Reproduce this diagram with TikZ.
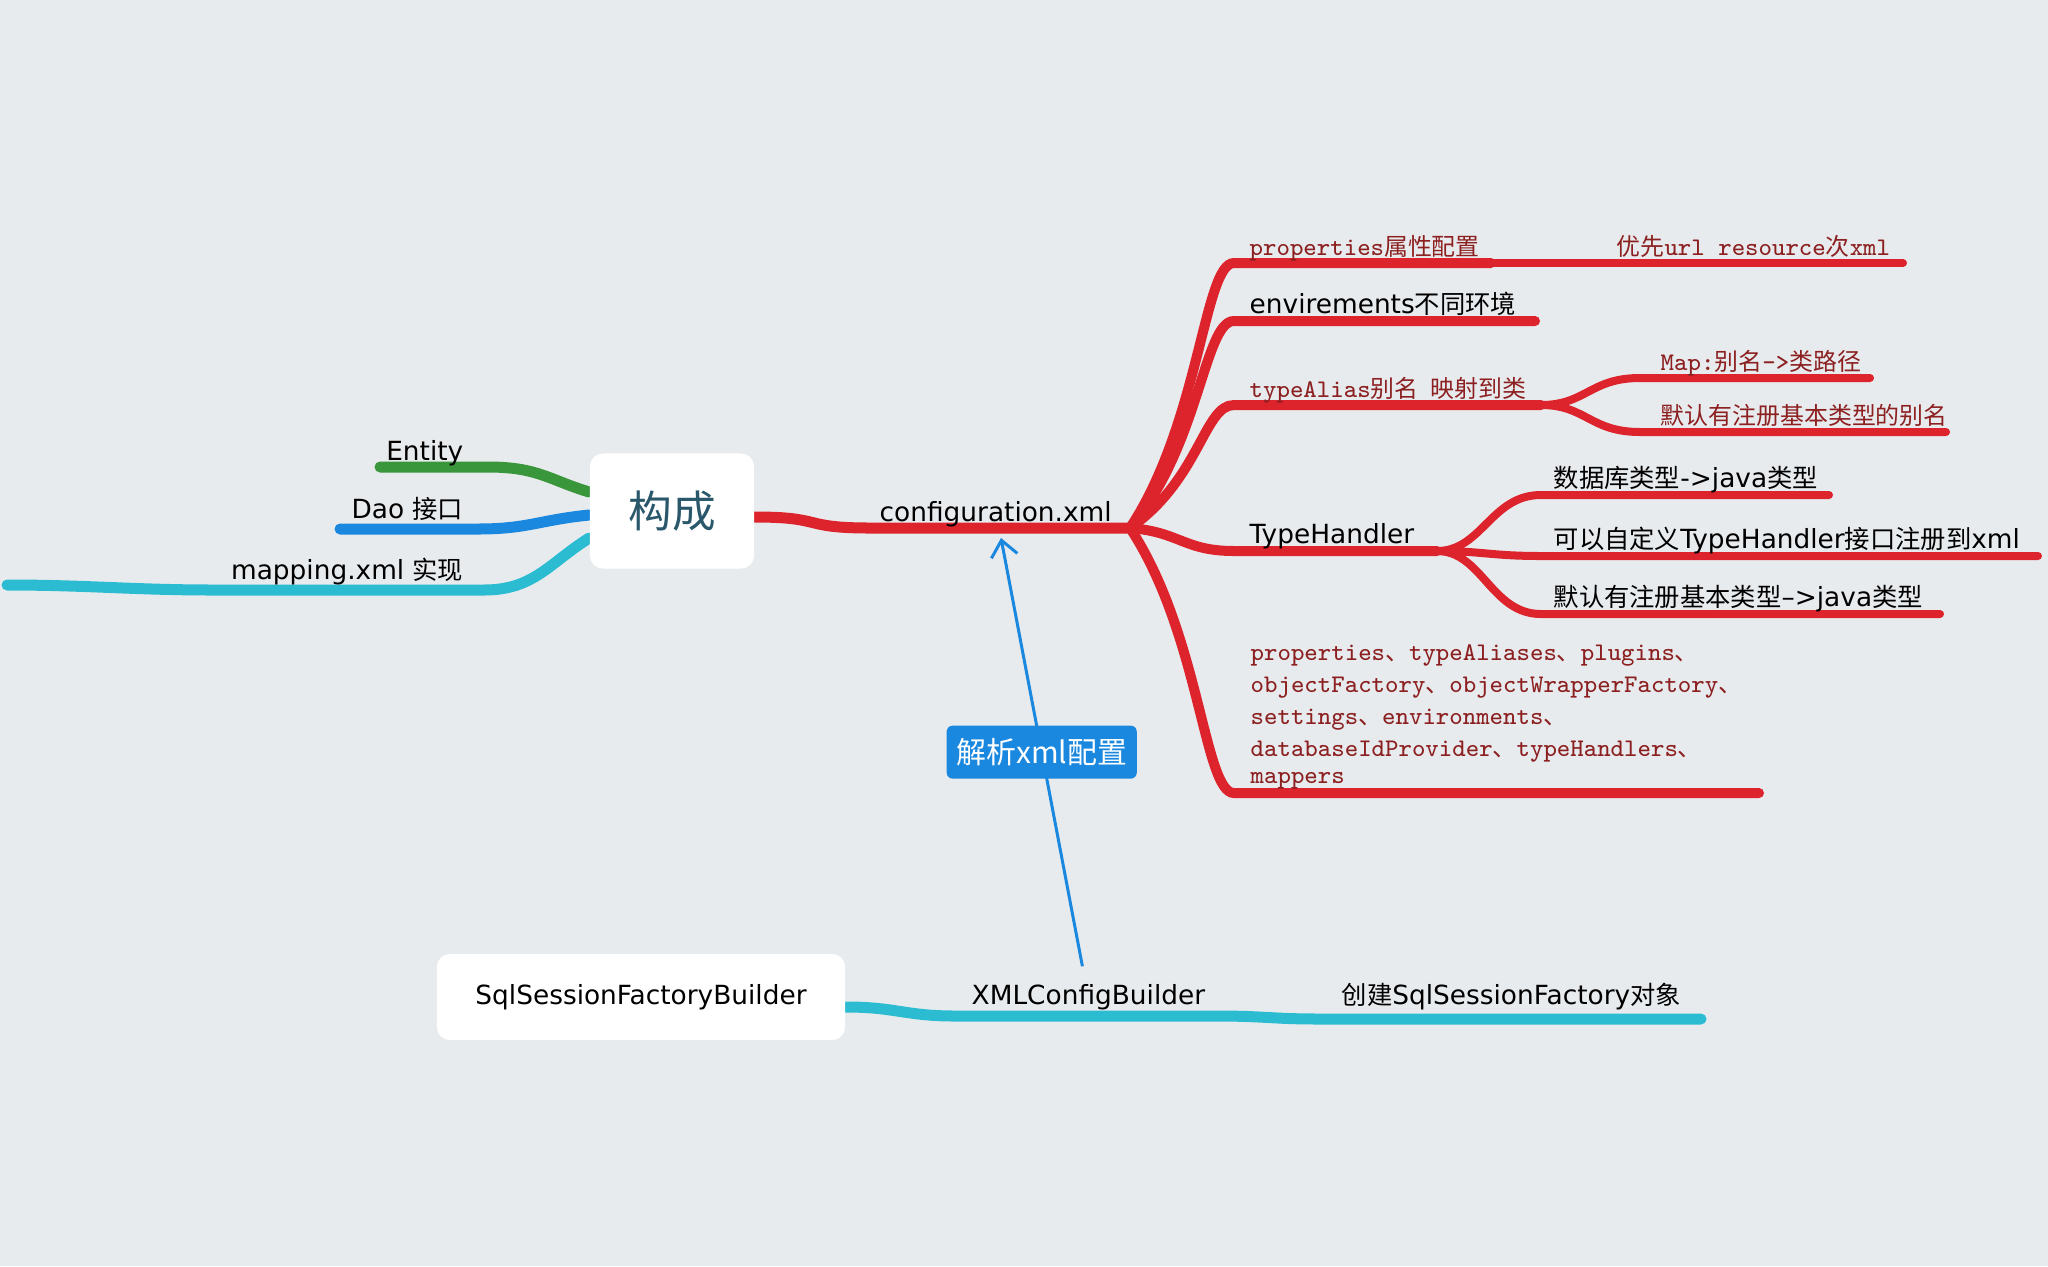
\documentclass[tikz,border=0pt]{standalone}
\usepackage{fontspec}
\setmainfont{DejaVu Sans}
\newfontfamily\cjk{Noto Sans CJK SC}
\usetikzlibrary{calc,arrows.meta}

\definecolor{bgcol}{RGB}{232,235,238}
\definecolor{mapred}{RGB}{221,35,43}
\definecolor{mapgreen}{RGB}{58,150,58}
\definecolor{mapblue}{RGB}{27,136,224}
\definecolor{mapcyan}{RGB}{43,188,210}
\definecolor{codered}{RGB}{140,32,32}
\definecolor{roottext}{RGB}{42,88,106}

\newcommand{\zh}[1]{{\fontsize{7.2}{9}\cjk #1}}
\newcommand{\zhr}[1]{{\fontsize{6.8}{9}\cjk #1}}

\pgfdeclarelayer{bg}
\pgfdeclarelayer{lines}
\pgfsetlayers{bg,lines,main}

\tikzset{
    lab/.style={inner sep=0pt, anchor=base west, font=\fontsize{7.5}{9}\selectfont},
    codelab/.style={inner sep=0pt, anchor=base west, text=codered, font=\fontsize{7.2}{9.1}\ttfamily},
    topline/.style={line width=1.1mm, line cap=round},
    redline/.style={mapred, line width=1mm, line cap=round},
    subline/.style={mapred, line width=0.8mm, line cap=round},
    rootbox/.style={fill=white, rounded corners=0.13cm, inner sep=0pt},
    tagbox/.style={fill=mapblue, text=white, rounded corners=0.06cm, inner sep=0pt,
        minimum width=1.9cm, minimum height=0.53cm, font=\fontsize{8.5}{10}\cjk},
    arrowline/.style={mapblue, line width=0.3mm, -{Straight Barb[length=4.5pt,width=7.5pt]}},
}

\begin{document}
\begin{tikzpicture}[x=0.01cm, y=-0.01cm]

\useasboundingbox (0,0) rectangle (2048,1266);
\begin{pgfonlayer}{bg}
    \fill[bgcol] (0,0) rectangle (2048,1266);
\end{pgfonlayer}

% central topic and the builder
\node[rootbox, minimum width=1.64cm, minimum height=1.15cm, text=roottext,
    font=\fontsize{12.4}{14}\cjk] (root) at (672,511) {构成};
\node[rootbox, minimum width=4.08cm, minimum height=0.86cm,
    font=\fontsize{7.5}{9}\selectfont] (sfb) at (641,997) {SqlSessionFactoryBuilder};

% left branches
\coordinate (gL) at (380,467);
\coordinate (gM) at (488,467);
\coordinate (bL) at (340,529);
\coordinate (bM) at (478,529);
\coordinate (cX) at (7,585);
\coordinate (cL) at (214,590);
\coordinate (cM) at (484,590);

\node[lab, anchor=base east] (entity) at ($(gM)+(-24,-7)$) {Entity};
\node[lab, anchor=base east] (dao) at ($(bM)+(-14,-11)$) {Dao \zh{接口}};
\node[lab, anchor=base east] (mapping) at ($(cM)+(-20,-11)$) {mapping.xml \zh{实现}};

% configuration.xml and its fan point
\coordinate (cfgL) at (870,528);
\coordinate (fan) at (1130,528);
\node[lab] (cfg) at ($(cfgL)+(9,-7)$) {configuration.xml};

% right branches
\coordinate (c1) at (1234,263);
\coordinate (c1end) at (1491,263);
\coordinate (c1far) at (1903,263);
\coordinate (c2) at (1234,321);
\coordinate (c2end) at (1535,321);
\coordinate (c3) at (1234,405);
\coordinate (c3end) at (1541,405);
\coordinate (c4) at (1234,551);
\coordinate (c4end) at (1437,551);
\coordinate (c5) at (1234,793);
\coordinate (c5end) at (1759,793);

% typeAlias children
\coordinate (a1) at (1640,378);
\coordinate (a1end) at (1870,378);
\coordinate (a2) at (1640,432);
\coordinate (a2end) at (1946,432);

% TypeHandler children
\coordinate (h1) at (1541,495);
\coordinate (h1end) at (1829,495);
\coordinate (h2) at (1541,556);
\coordinate (h2end) at (2038,556);
\coordinate (h3) at (1541,614);
\coordinate (h3end) at (1940,614);

\node[codelab] (prop) at ($(c1)+(15,-8)$) {properties\zhr{属性配置}};
\node[codelab] (prior) at ($(c1end)+(125,-8)$) {\zhr{优先}url resource\zhr{次}xml};
\node[lab] (env) at ($(c2)+(15,-8)$) {envirements\zh{不同环境}};
\node[codelab] (alias) at ($(c3)+(15,-8)$) {typeAlias\zhr{别名\hspace{0.5em}映射到类}};
\node[codelab] (amap) at ($(a1)+(20,-8)$) {Map:\zhr{别名}->\zhr{类路径}};
\node[codelab] (adef) at ($(a2)+(20,-8)$) {\zhr{默认有注册基本类型的别名}};
\node[lab] (th) at ($(c4)+(15,-8)$) {TypeHandler};
\node[lab] (h1t) at ($(h1)+(12,-8)$) {\zh{数据库类型}->java\zh{类型}};
\node[lab] (h2t) at ($(h2)+(12,-8)$) {\zh{可以自定义}TypeHandler\zh{接口注册到}xml};
\node[lab] (h3t) at ($(h3)+(12,-8)$) {\zh{默认有注册基本类型}–>java\zh{类型}};
\node[codelab, anchor=south west, align=left] (elems) at ($(c5)+(16,-3)$)
    {properties\zhr{、}typeAliases\zhr{、}plugins\zhr{、}\\
     objectFactory\zhr{、}objectWrapperFactory\zhr{、}\\
     settings\zhr{、}environments\zhr{、}\\
     databaseIdProvider\zhr{、}typeHandlers\zhr{、}\\[-1.5pt]
     mappers};

% bottom branch
\coordinate (xL) at (955,1016);
\coordinate (xR) at (1216,1016);
\coordinate (kL) at (1320,1019);
\coordinate (kR) at (1701,1019);
\node[lab] (xmlcb) at ($(xL)+(16,-12)$) {XMLConfigBuilder};
\node[lab] (mkfac) at ($(kL)+(21,-15)$) {\zh{创建}SqlSessionFactory\zh{对象}};

% parse arrow
\coordinate (xmltop) at ($(xmlcb.north)+(-6,-17)$);
\coordinate (cfgtip) at (1001,538);
\node[tagbox] (parse) at ($(xmltop)!0.5!(cfgtip)$) {解析xml配置};

\begin{pgfonlayer}{lines}
    \draw[topline, mapgreen] (gL) -- (gM) .. controls +(50,0) and +(-40,-12) .. ($(root.west)+(0,-19)$);
    \draw[topline, mapblue] (bL) -- (bM) .. controls +(50,0) and +(-50,5) .. ($(root.west)+(0,4)$);
    \draw[topline, mapcyan] (cX) .. controls +(80,0) and +(-80,0) .. (cL) -- (cM)
        .. controls +(50,0) and +(-40,25) .. ($(root.west)+(0,27)$);
    \draw[topline, mapred] ($(root.east)+(0,6)$) .. controls +(70,0) and +(-70,0) .. (cfgL) -- (fan);
    \foreach \tgt/\dy in {c1/-106, c2/-82, c3/-49, c5/106}
        \draw[redline] (fan) .. controls +(70,\dy) and +(-30,0) .. (\tgt) -- (\tgt end);
    \draw[redline] (fan) .. controls +(50,4) and +(-50,0) .. (c4) -- (c4end);
    \draw[subline] (c1end) -- (c1far);
    \foreach \tgt in {a1, a2}
        \draw[subline] (c3end) .. controls +(45,0) and +(-50,0) .. (\tgt) -- (\tgt end);
    \foreach \tgt in {h1, h2, h3}
        \draw[subline] (c4end) .. controls +(45,0) and +(-50,0) .. (\tgt) -- (\tgt end);
    \draw[topline, mapcyan] ($(sfb.east)+(0,10)$) .. controls +(50,0) and +(-50,0) .. (xL) -- (xR)
        .. controls +(50,0) and +(-50,0) .. (kL) -- (kR);
    \draw[arrowline] (xmltop) -- (cfgtip);
\end{pgfonlayer}

\end{tikzpicture}
\end{document}
